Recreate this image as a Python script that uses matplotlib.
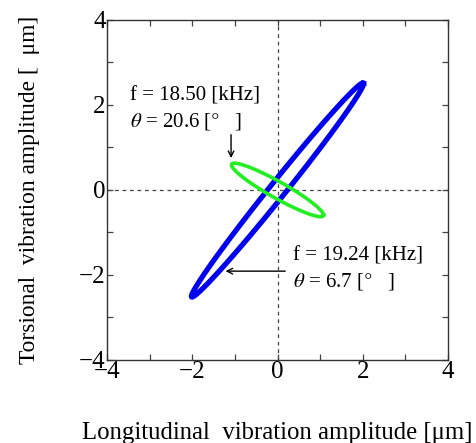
import numpy as np
import matplotlib
matplotlib.use("Agg")
import matplotlib.pyplot as plt
from matplotlib.ticker import MultipleLocator

plt.rcParams['font.family'] = ['Liberation Serif', 'DejaVu Serif']
plt.rcParams['mathtext.fontset'] = 'stix'

# Lissajous parameters
# blue: f = 19.24 kHz, theta = 6.7 deg
blue_amp_x = 2.02
blue_amp_y = 2.52
blue_phase_deg = 6.7
# green: f = 18.50 kHz, theta = 20.6 deg (anti-phase)
green_amp_x = 1.08
green_amp_y = 0.63
green_phase_deg = 180 - 20.6

ticks = [-4, -2, 0, 2, 4]

t = np.linspace(0, 2 * np.pi, 400)

fig = plt.figure(figsize=(4.76, 4.43), dpi=100)
ax = fig.add_axes([0.2248, 0.1874, 0.7164, 0.7676])

ax.axhline(0, color='#444444', lw=0.9, ls=(0, (3, 3)), zorder=1)
ax.axvline(0, color='#444444', lw=0.9, ls=(0, (3, 3)), zorder=1)

ax.plot(blue_amp_x * np.cos(t), blue_amp_y * np.cos(t + np.deg2rad(blue_phase_deg)),
        color='#0000ee', lw=3.8, zorder=3)
ax.plot(green_amp_x * np.cos(t), green_amp_y * np.cos(t + np.deg2rad(green_phase_deg)),
        color='#22ee22', lw=2.6, zorder=4)

ax.set_xlim(-4, 4)
ax.set_ylim(-4, 4)
ax.set_xticks(ticks)
ax.set_yticks(ticks)
ax.set_xticklabels(['\u22124', '\u22122', '0', '2', '4'])
ax.set_yticklabels(['\u22124', '\u22122', '0', '2', '4'])
ax.xaxis.set_minor_locator(MultipleLocator(1))
ax.yaxis.set_minor_locator(MultipleLocator(1))
ax.tick_params(which='both', direction='in', length=4, width=0.9, color='#444444',
               top=True, right=True, labelsize=18, pad=1)
for s in ax.spines.values():
    s.set_color('#333333')
    s.set_linewidth(1.0)

ax.set_xlabel('Longitudinal  vibration amplitude [\u03bcm]', fontsize=17.8, labelpad=28)
ax.set_ylabel('Torsional  vibration amplitude [  \u03bcm]', fontsize=16.8, labelpad=28)

fs = 15
ax.text(-3.46, 2.2, 'f = 18.50 [kHz]', fontsize=fs, va='center', ha='left')
ax.text(-3.46, 1.62, r'$\theta$ = 20.6 [$\degree$   ]', fontsize=fs, va='center', ha='left')
ax.text(0.37, -1.56, 'f = 19.24 [kHz]', fontsize=fs, va='center', ha='left')
ax.text(0.37, -2.15, r'$\theta$ = 6.7 [$\degree$   ]', fontsize=fs, va='center', ha='left')

ax.annotate('', xy=(-1.09, 0.75), xytext=(-1.09, 1.3),
            arrowprops=dict(arrowstyle='->', color='black', lw=1.0, shrinkA=0, shrinkB=0))
ax.annotate('', xy=(-1.22, -1.91), xytext=(0.18, -1.91),
            arrowprops=dict(arrowstyle='->', color='black', lw=1.0, shrinkA=0, shrinkB=0))

fig.savefig('out.png', dpi=100)
